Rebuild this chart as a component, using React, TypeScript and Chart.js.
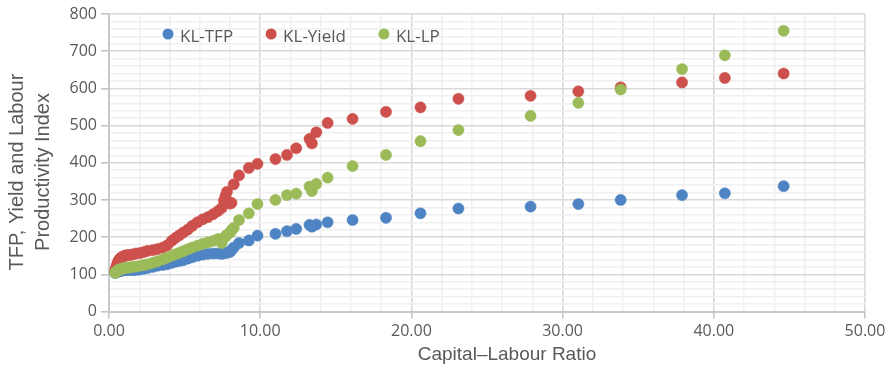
import React, { useEffect, useRef } from "react";
import { Chart, registerables } from "chart.js";

Chart.register(...registerables);

// Capital–Labour ratio (shared x for all series)
const klRatio = [
  0.40, 0.45, 0.50, 0.55, 0.60, 0.65, 0.70, 0.78, 0.85, 0.95,
  1.05, 1.15, 1.25, 1.40, 1.60, 1.80, 2.05, 2.30, 2.55, 2.90,
  3.20, 3.55, 3.85, 4.15, 4.40, 4.65, 4.90, 5.20, 5.50, 5.85,
  6.20, 6.55, 6.90, 7.20, 7.45, 7.60, 7.70, 7.80, 8.00, 8.10,
  8.25, 8.60, 9.25, 9.82, 11.01, 11.77, 12.38, 13.26, 13.42, 13.71,
  14.46, 16.11, 18.32, 20.60, 23.11, 27.88, 31.04, 33.84, 37.90, 40.73,
  44.62,
];

const tfpIndex = [
  104, 105, 106, 107, 108, 108, 109, 110, 110, 111,
  111, 112, 112, 112, 111, 112, 113, 115, 117, 120,
  123, 125, 127, 131, 134, 136, 138, 142, 146, 150,
  153, 155, 156, 156, 155, 157, 158, 158, 160, 165,
  172, 184, 191, 204, 209, 216, 222, 233, 228, 234,
  240, 246, 252, 264, 277, 282, 289, 300, 313, 318,
  337,
];

const yieldIndex = [
  108, 115, 122, 128, 133, 137, 141, 144, 146, 148,
  150, 151, 152, 152, 154, 156, 157, 160, 163, 165,
  168, 172, 178, 190, 198, 205, 212, 220, 230, 240,
  248, 254, 262, 270, 278, 298, 310, 322, 290, 292,
  342, 366, 386, 397, 410, 421, 439, 464, 452, 482,
  507, 518, 537, 549, 572, 580, 592, 603, 616, 628,
  640,
];

const labourProdIndex = [
  104, 106, 108, 109, 111, 112, 113, 114, 115, 116,
  117, 118, 118, 119, 120, 121, 123, 125, 127, 131,
  135, 140, 145, 150, 154, 158, 162, 167, 172, 177,
  182, 186, 190, 195, 184, 198, 202, 206, 212, 218,
  225, 246, 264, 289, 300, 313, 317, 336, 324, 343,
  360, 391, 421, 458, 488, 526, 561, 597, 652, 689,
  755,
];

const seriesLabels = ["KL-TFP", "KL-Yield", "KL-LP"];
const seriesColors = ["#4f84c4", "#cd504c", "#9bbb59"];
const xTitle = "Capital\u2013Labour Ratio";
const yTitleLines = ["TFP, Yield and Labour", "Productivity Index"];

const TEXT = "#595959";
const MAJOR = "#d9d9d9";
const MINOR = "#f0f0f0";

const toPoints = (ys: number[]) => klRatio.map((x, i) => ({ x, y: ys[i] }));

const overlayPlugin = {
  id: "overlayText",
  afterDraw(chart: any) {
    const { ctx, chartArea } = chart;
    ctx.save();
    // legend inside plot area
    ctx.font = "17px 'Open Sans'";
    ctx.textBaseline = "middle";
    ctx.textAlign = "left";
    let x = chartArea.left + 59;
    const y = chartArea.top + 23;
    chart.data.datasets.forEach((ds: any) => {
      ctx.fillStyle = ds.backgroundColor;
      ctx.beginPath();
      ctx.arc(x, y - 3, 5.5, 0, Math.PI * 2);
      ctx.fill();
      ctx.fillStyle = TEXT;
      ctx.fillText(ds.label, x + 12, y);
      x += 12 + ctx.measureText(ds.label).width + 38;
    });
    // x axis title
    ctx.font = "19px 'Liberation Sans'";
    ctx.textAlign = "center";
    ctx.fillText(xTitle, 507, 355);
    // y axis title
    ctx.font = "20px 'Liberation Sans'";
    ctx.translate(17, 172);
    ctx.rotate(-Math.PI / 2);
    yTitleLines.forEach((line, i) => {
      ctx.fillText(line, 0, i * 26);
    });
    ctx.restore();
  },
};

export default function App() {
  const ref = useRef<HTMLCanvasElement>(null);

  useEffect(() => {
    document.body.style.margin = "0";
    const order = [2, 1, 0];
    const series = [tfpIndex, yieldIndex, labourProdIndex];
    const chart = new Chart(ref.current as HTMLCanvasElement, {
      type: "scatter",
      data: {
        datasets: series.map((ys, i) => ({
          label: seriesLabels[i],
          data: toPoints(ys),
          backgroundColor: seriesColors[i],
          borderColor: seriesColors[i],
          borderWidth: 0.5,
          pointRadius: 5.6,
          order: order[i],
        })),
      },
      options: {
        responsive: false,
        animation: false,
        layout: { padding: { left: 0, right: 26, top: 14, bottom: 0 } },
        plugins: { legend: { display: false }, tooltip: { enabled: false } },
        scales: {
          x: {
            type: "linear",
            min: 0,
            max: 50,
            afterFit: (s: any) => {
              s.height = 56.5;
            },
            ticks: {
              stepSize: 2,
              autoSkip: false,
              maxRotation: 0,
              padding: 3,
              color: TEXT,
              font: { family: "'Open Sans'", size: 16 },
              callback: (v: any) => (Math.round(v) % 10 === 0 ? Number(v).toFixed(2) : ""),
            },
            grid: {
              color: (c: any) => (Math.round(c.tick.value) % 10 === 0 ? MAJOR : MINOR),
              lineWidth: (c: any) => (Math.round(c.tick.value) % 10 === 0 ? 1.6 : 1.4),
              tickColor: (c: any) => (Math.round(c.tick.value) % 10 === 0 ? "#c4c4c4" : "rgba(0,0,0,0)"),
              tickLength: 7,
            },
            border: { color: "#c8c8c8", width: 2 },
          },
          y: {
            type: "linear",
            min: 0,
            max: 800,
            afterFit: (s: any) => {
              s.width = 109;
            },
            ticks: {
              stepSize: 20,
              autoSkip: false,
              padding: 4,
              color: TEXT,
              font: { family: "'Open Sans'", size: 16 },
              callback: (v: any) => (Math.round(v) % 100 === 0 ? String(v) : ""),
            },
            grid: {
              color: (c: any) => (Math.round(c.tick.value) % 100 === 0 ? MAJOR : MINOR),
              lineWidth: (c: any) => (Math.round(c.tick.value) % 100 === 0 ? 1.6 : 1.4),
              tickColor: (c: any) => (Math.round(c.tick.value) % 100 === 0 ? "#c4c4c4" : "rgba(0,0,0,0)"),
              tickLength: 8,
            },
            border: { color: "#c8c8c8", width: 2 },
          },
        },
      },
      plugins: [overlayPlugin],
    });
    return () => chart.destroy();
  }, []);

  return (
    <div style={{ position: "absolute", left: 0, top: 0, width: 891, height: 368 }}>
      <canvas ref={ref} width={891} height={368} style={{ display: "block" }} />
    </div>
  );
}
